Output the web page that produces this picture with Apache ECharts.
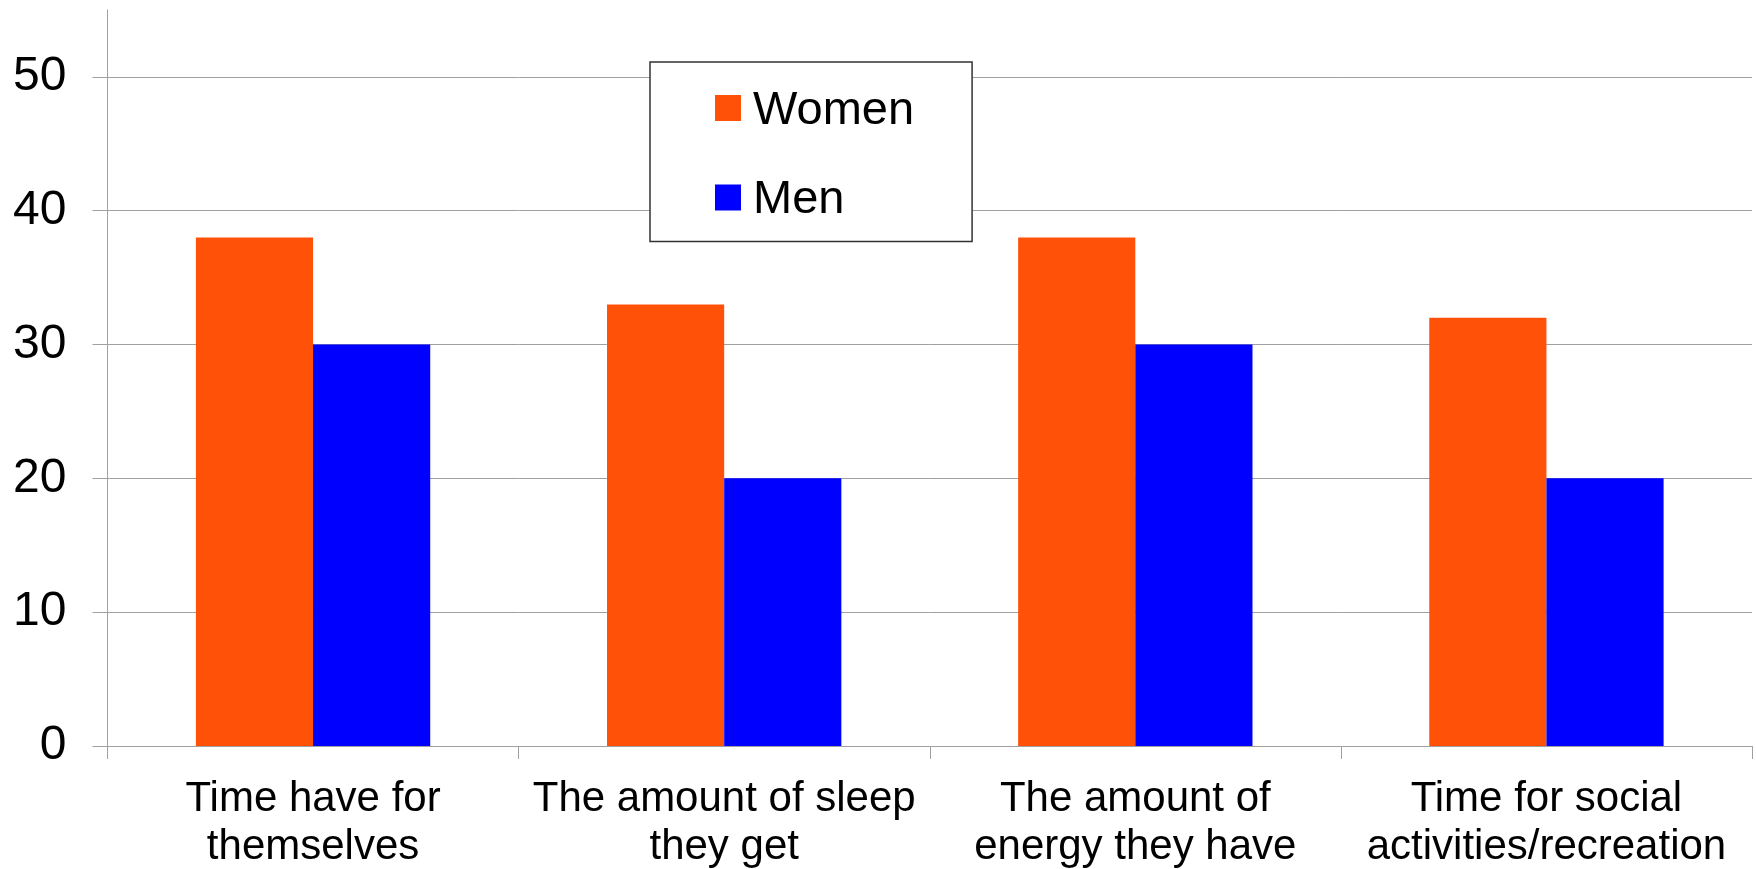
<!DOCTYPE html>
<html>
<head>
<meta charset="utf-8">
<script src="https://cdn.jsdelivr.net/npm/echarts@6/dist/echarts.min.js"></script>
<style>
  html, body { margin: 0; padding: 0; background: #ffffff; }
  #chart { width: 1756px; height: 869px; }
</style>
</head>
<body>
<div id="chart"></div>
<script>
// Categories and survey values (percent)
const categories = [
  'Time have for\nthemselves',
  'The amount of sleep\nthey get',
  'The amount of\nenergy they have',
  'Time for social\nactivities/recreation'
];
const women = [38, 33, 38, 32];
const men = [30, 20, 30, 20];
const yTicks = [0, 10, 20, 30, 40, 50];

const FONT = '"Liberation Sans", Arial, sans-serif';
const GRID_COLOR = '#a0a0a0';

const chart = echarts.init(document.getElementById('chart'), null, { renderer: 'canvas' });

chart.setOption({
  backgroundColor: '#ffffff',
  animation: false,
  grid: {
    left: 107.5, right: 4, top: 10, bottom: 123,
    containLabel: false,
    outerBoundsMode: 'none'
  },
  legend: {
    orient: 'vertical',
    left: 650,
    top: 62,
    itemWidth: 26,
    itemHeight: 26,
    itemGap: 36.5,
    icon: 'rect',
    padding: [19.5, 58, 17.5, 65],
    borderColor: '#333333',
    borderWidth: 1.5,
    backgroundColor: '#ffffff',
    formatter: '{t|{name}}',
    textStyle: {
      fontFamily: FONT,
      fontSize: 47,
      color: '#000000',
      rich: {
        t: {
          fontFamily: FONT,
          fontSize: 47,
          lineHeight: 47,
          color: '#000000',
          padding: [6, 0, 0, 7]
        }
      }
    },
    data: ['Women', 'Men']
  },
  xAxis: {
    type: 'category',
    data: categories,
    axisLine: { show: true, lineStyle: { color: GRID_COLOR, width: 1 } },
    axisTick: { show: true, alignWithLabel: false, length: 13, lineStyle: { color: GRID_COLOR } },
    axisLabel: {
      interval: 0,
      margin: 29,
      fontFamily: FONT,
      fontSize: 42,
      lineHeight: 48,
      color: '#000000'
    },
    splitLine: { show: false }
  },
  yAxis: {
    type: 'value',
    min: 0,
    max: 55,
    interval: 10,
    axisLine: { show: true, lineStyle: { color: GRID_COLOR, width: 1 } },
    axisTick: {
      show: true,
      length: 15,
      customValues: yTicks,
      lineStyle: { color: GRID_COLOR }
    },
    axisLabel: {
      customValues: yTicks,
      margin: 41,
      fontFamily: FONT,
      fontSize: 48,
      color: '#000000'
    },
    splitLine: {
      show: true,
      // one colour per tick line; the last one (top of the axis) stays invisible
      lineStyle: {
        color: [GRID_COLOR, GRID_COLOR, GRID_COLOR, GRID_COLOR, GRID_COLOR, GRID_COLOR, 'rgba(0,0,0,0)'],
        width: 1
      }
    }
  },
  series: [
    {
      name: 'Women',
      type: 'bar',
      data: women,
      barGap: '0%',
      barCategoryGap: '43%',
      itemStyle: { color: '#ff5208' }
    },
    {
      name: 'Men',
      type: 'bar',
      data: men,
      itemStyle: { color: '#0000ff' }
    }
  ]
});
</script>
</body>
</html>
